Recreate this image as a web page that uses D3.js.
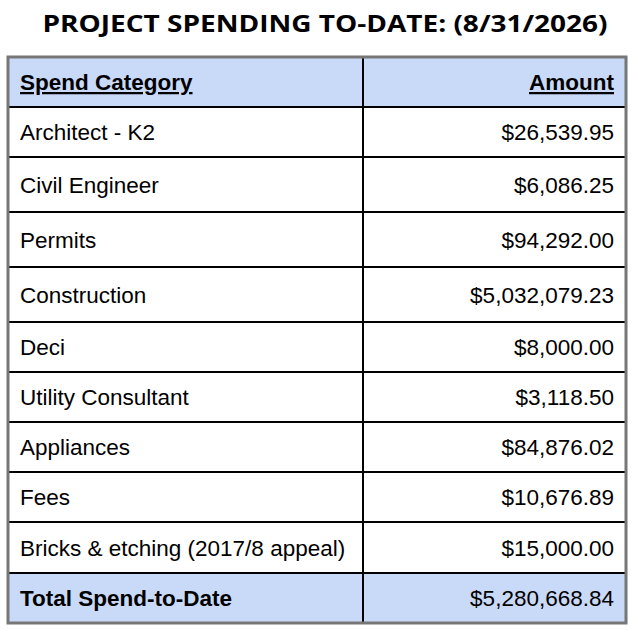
<!DOCTYPE html>
<html><head><meta charset="utf-8">
<script src="https://cdn.jsdelivr.net/npm/d3@7"></script>
<style>body{margin:0;background:#fff}</style></head>
<body><svg id="chart" width="636" height="630"></svg>
<script>
const title = 'PROJECT SPENDING TO-DATE: (8/31/2026)'
const headers = ['Spend Category', 'Amount']
const categories = ['Architect - K2', 'Civil Engineer', 'Permits', 'Construction', 'Deci',
    'Utility Consultant', 'Appliances', 'Fees', 'Bricks & etching (2017/8 appeal)']
const amounts = [26539.95, 6086.25, 94292.00, 5032079.23, 8000.00, 3118.50, 84876.02, 10676.89, 15000.00]
const totalLabel = 'Total Spend-to-Date'
const total = 5280668.84

// row boundaries
const rowEdges = [57, 107, 157, 212, 267, 322, 372, 422, 472, 522, 573, 623]
const left = 8, mid = 363, right = 626
const fmt = d3.format('$,.2f')

const svg = d3.select('#chart')

svg.append('text')
    .attr('x', 325).attr('y', 32)
    .attr('text-anchor', 'middle')
    .attr('textLength', 565).attr('lengthAdjust', 'spacingAndGlyphs')
    .style('font-family', 'Open Sans').style('font-weight', 700).style('font-size', '24px')
    .text(title)

const rows = [{ c: headers[0], a: headers[1], type: 'head' }]
categories.forEach((c, i) => rows.push({ c: c, a: fmt(amounts[i]), type: 'body' }))
rows.push({ c: totalLabel, a: fmt(total), type: 'total' })

const g = svg.selectAll('g.row').data(rows).enter().append('g')

g.append('rect')
    .attr('x', left).attr('width', right - left)
    .attr('y', (d, i) => rowEdges[i])
    .attr('height', (d, i) => rowEdges[i + 1] - rowEdges[i])
    .attr('fill', d => d.type === 'body' ? '#ffffff' : '#c9daf8')

const textY = (d, i) => (rowEdges[i] + rowEdges[i + 1]) / 2 + 8

g.append('text')
    .attr('x', 20).attr('y', textY)
    .style('font-family', 'Liberation Sans, Arial').style('font-size', '22.5px')
    .style('font-weight', d => d.type === 'body' ? 400 : 700)
    .style('text-decoration', d => d.type === 'head' ? 'underline' : 'none')
    .text(d => d.c)

g.append('text')
    .attr('x', 614).attr('y', textY)
    .attr('text-anchor', 'end')
    .style('font-family', 'Liberation Sans, Arial').style('font-size', '22.5px')
    .style('font-weight', d => d.type === 'head' ? 700 : 400)
    .style('text-decoration', d => d.type === 'head' ? 'underline' : 'none')
    .text(d => d.a)

// inner row lines
svg.selectAll('line.h').data(rowEdges.slice(1, -1)).enter().append('line')
    .attr('x1', left).attr('x2', right).attr('y1', d => d).attr('y2', d => d)
    .attr('stroke', '#000').attr('stroke-width', 2)

svg.append('line')
    .attr('x1', mid).attr('x2', mid).attr('y1', rowEdges[0]).attr('y2', rowEdges[rowEdges.length - 1])
    .attr('stroke', '#000').attr('stroke-width', 2)

svg.append('rect')
    .attr('x', left).attr('y', rowEdges[0])
    .attr('width', right - left).attr('height', rowEdges[rowEdges.length - 1] - rowEdges[0])
    .attr('fill', 'none').attr('stroke', '#777').attr('stroke-width', 3)
</script></body></html>
